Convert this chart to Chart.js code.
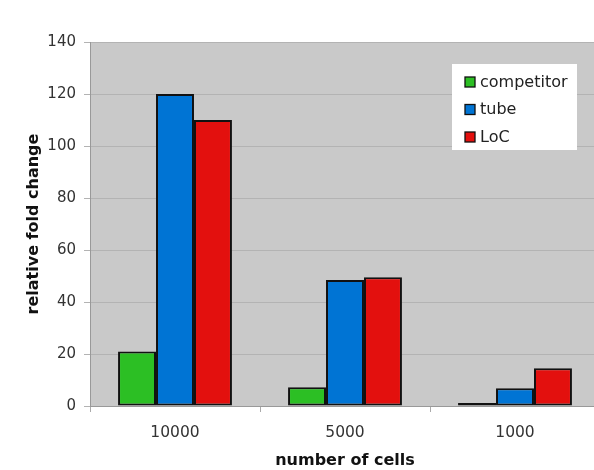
<!DOCTYPE html>
<html><head><meta charset="utf-8">
<script src="https://cdn.jsdelivr.net/npm/chart.js@4/dist/chart.umd.min.js"></script>
<style>html,body{margin:0;padding:0;background:#fff;overflow:hidden;width:594px;height:470px}
#wrap{position:absolute;left:0;top:0;width:604px;height:470px}</style>
</head><body><div id="wrap"><canvas id="c" width="604" height="470"></canvas></div>
<script>
const categories = ["10000", "5000", "1000"];
const seriesNames = ["competitor", "tube", "LoC"];
const competitor = [21, 7.2, 1.2];
const tube = [120, 48.5, 6.8];
const loc = [110, 49.5, 14.5];
const yTicks = [0, 20, 40, 60, 80, 100, 120, 140];
const colors = ["#2cbf24", "#0074d4", "#e3100e"];
const FONT = "'DejaVu Sans', Verdana, sans-serif";

const bgPlugin = {
  id: 'bg',
  beforeDraw(chart) {
    const {ctx, chartArea: a} = chart;
    ctx.save();
    ctx.fillStyle = '#c9c9c9';
    ctx.fillRect(a.left, a.top, a.right - a.left, a.bottom - a.top);
    ctx.restore();
  },
  afterDraw(chart) {
    const ctx = chart.ctx;
    const x0 = 452, y0 = 64, w = 125, h = 86;
    ctx.save();
    ctx.fillStyle = '#fff';
    ctx.fillRect(x0, y0, w, h);
    ctx.font = '16px ' + FONT;
    ctx.textBaseline = 'middle';
    chart.data.datasets.forEach((ds, i) => {
      const cy = y0 + 18 + i * 27.5;
      ctx.fillStyle = ds.backgroundColor;
      ctx.fillRect(x0 + 13, cy - 5, 10, 10);
      ctx.strokeStyle = '#111';
      ctx.lineWidth = 1.3;
      ctx.strokeRect(x0 + 13, cy - 5, 10, 10);
      ctx.fillStyle = '#222';
      ctx.fillText(ds.label, x0 + 28, cy + 0.5);
    });
    ctx.restore();
  }
};

new Chart(document.getElementById('c'), {
  type: 'bar',
  data: {
    labels: categories,
    datasets: [
      {label: seriesNames[0], data: competitor, backgroundColor: colors[0]},
      {label: seriesNames[1], data: tube, backgroundColor: colors[1]},
      {label: seriesNames[2], data: loc, backgroundColor: colors[2]}
    ].map(d => Object.assign(d, {borderColor: '#111', borderWidth: 2, borderSkipped: false, barPercentage: 1, categoryPercentage: 0.67}))
  },
  plugins: [bgPlugin],
  options: {
    responsive: false,
    animation: false,
    devicePixelRatio: 1,
    layout: {padding: {top: 42, right: 4, left: 0, bottom: 0}},
    plugins: {legend: {display: false}, tooltip: {enabled: false}},
    scales: {
      x: {
        grid: {display: true, offset: true, drawOnChartArea: false, color: '#aaa', tickLength: 6},
        border: {display: true, color: '#999', width: 1},
        ticks: {color: '#333', font: {family: FONT, size: 15.5}, padding: 12},
        title: {display: true, text: 'number of cells', color: '#111', font: {family: FONT, size: 16, weight: 'bold'}, padding: {top: 4, bottom: 0}},
        afterFit(s) { s.height = 64; }
      },
      y: {
        min: 0, max: 140,
        afterBuildTicks(s) { s.ticks = yTicks.map(v => ({value: v})); },
        grid: {color: '#b3b3b3', lineWidth: 1, tickLength: 6},
        border: {display: true, color: '#999', width: 1},
        ticks: {color: '#333', font: {family: FONT, size: 15}, padding: 8},
        title: {display: true, text: 'relative fold change', color: '#111', font: {family: FONT, size: 16, weight: 'bold'}, padding: {top: 24, bottom: 4}},
        afterFit(s) { s.width = 90; }
      }
    }
  }
});
</script></body></html>
